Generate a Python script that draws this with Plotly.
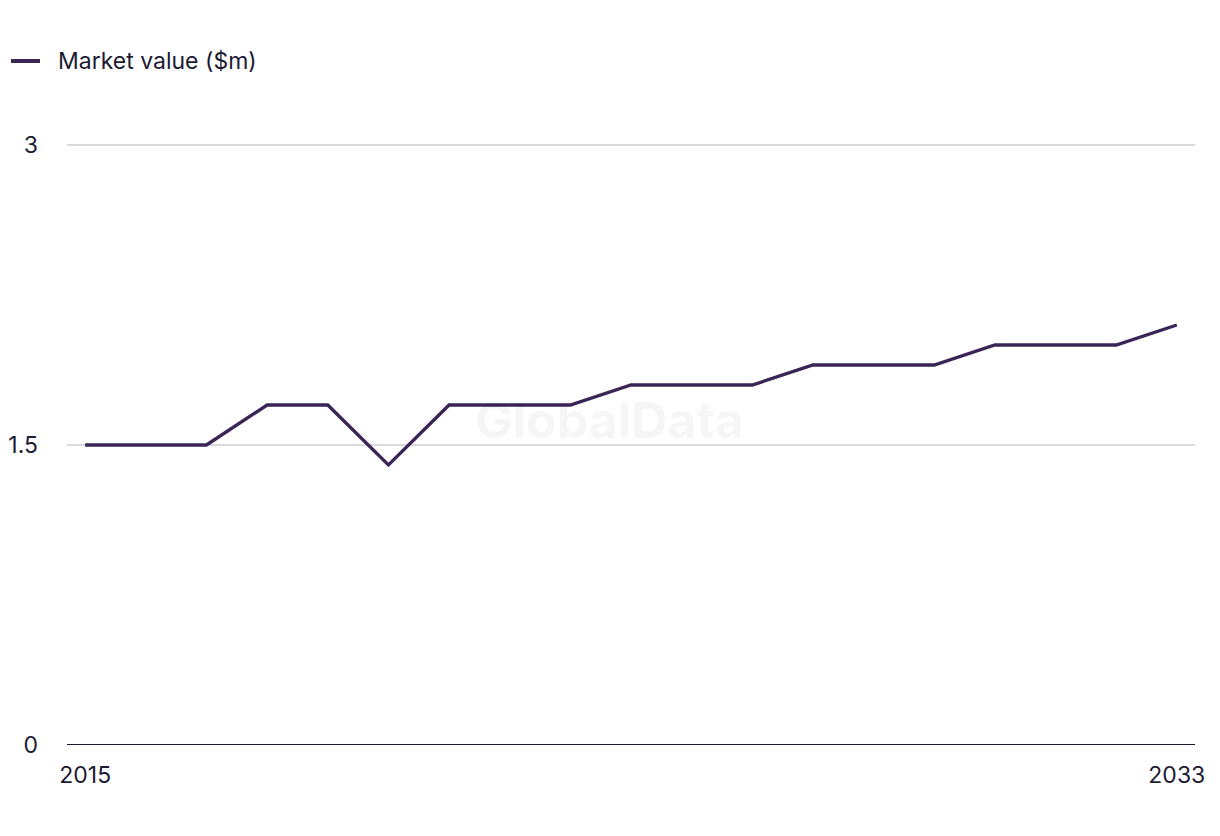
import plotly.graph_objects as go

years = list(range(2015, 2034))
market_value = [1.5, 1.5, 1.5, 1.7, 1.7, 1.4, 1.7, 1.7, 1.7, 1.8, 1.8, 1.8,
                1.9, 1.9, 1.9, 2.0, 2.0, 2.0, 2.1]
series_name = "Market value ($m)"
x_ticks = [2015, 2033]
y_ticks = [0, 1.5, 3]
y_tick_text = ["0", "1.5", "3"]

text_color = "#1c1b33"
line_color = "#3b2456"
font_family = "Inter, Roboto, sans-serif"
fsize = 23

L, R, T, B = 67, 25, 143, 91
W, H = 1220, 836
pw = W - L - R
ph = H - T - B

fig = go.Figure()
fig.add_trace(go.Scatter(
    x=years, y=market_value, mode="lines", name=series_name,
    line=dict(color=line_color, width=3.3), showlegend=False,
))

fig.update_layout(
    width=W, height=H,
    margin=dict(l=L, r=R, t=T, b=B, autoexpand=False),
    paper_bgcolor="white", plot_bgcolor="white",
    font=dict(family=font_family, size=fsize, color=text_color),
    xaxis=dict(range=[2014.7, 2033.3], tickvals=x_ticks,
               ticktext=[str(v) for v in x_ticks],
               showgrid=False, zeroline=False, showline=False,
               ticks="", ticklabelstandoff=14, automargin=False,
               tickfont=dict(size=fsize, color=text_color)),
    yaxis=dict(range=[0, 3.01], tickvals=y_ticks, ticktext=y_tick_text,
               showgrid=True, gridcolor="#d9d9d9", gridwidth=1.5,
               zeroline=False, showline=False, ticks="",
               ticklabelstandoff=28, automargin=False,
               tickfont=dict(size=fsize, color=text_color)),
    annotations=[
        dict(text="<b>GlobalData</b>", x=0.481, y=0.54,
             xref="paper", yref="paper", showarrow=False,
             font=dict(size=50, color="rgba(0,0,0,0.035)")),
        dict(text=series_name, x=(56 - L) / pw, y=(H - B - 61) / ph,
             xref="paper", yref="paper",
             showarrow=False, xanchor="left", yanchor="middle",
             font=dict(size=fsize, color=text_color)),
    ],
)

# legend swatch
fig.add_shape(type="line", xref="paper", yref="paper",
              x0=(11 - L) / pw, x1=(40 - L) / pw,
              y0=(H - B - 61) / ph, y1=(H - B - 61) / ph,
              line=dict(color=line_color, width=4))

# baseline axis line at y=0
fig.add_shape(type="line", xref="paper", yref="y", x0=0, x1=1, y0=0, y1=0,
              line=dict(color=text_color, width=2))

fig.write_html("out.html")
